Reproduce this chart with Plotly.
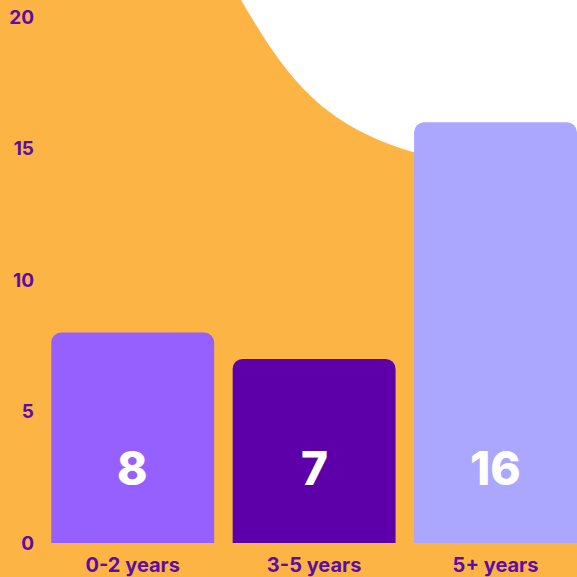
import plotly.graph_objects as go

categories = ["0-2 years", "3-5 years", "5+ years"]
values = [8, 7, 16]
bar_colors = ["#965FFF", "#5E00A9", "#ABA7FF"]
y_ticks = [0, 5, 10, 15, 20]

ORANGE = "#FCB445"
PURPLE = "#5C0DA6"

fig = go.Figure()
fig.add_trace(go.Bar(
    x=list(range(len(categories))),
    y=values,
    marker=dict(color=bar_colors, cornerradius=10, line=dict(width=0)),
    width=0.898,
    hoverinfo="skip",
))

for i, v in enumerate(values):
    fig.add_annotation(
        x=i, y=2.85, text=str(v), showarrow=False,
        font=dict(family="Inter", size=46, color="white", weight=800),
        xanchor="center", yanchor="middle",
    )

# decorative white curved area in the top-right background (pixel offsets from plot top-left)
fig.add_shape(
    type="path", layer="below",
    xref="paper", yref="paper", xsizemode="pixel", ysizemode="pixel",
    xanchor=0, yanchor=1,
    path="M 197,22 L 199,17 C 243,-58 278,-108 371,-135 L 545,-185 L 545,22 Z",
    fillcolor="white", line=dict(width=0),
)

fig.update_layout(
    width=577, height=577,
    margin=dict(l=42, r=0, t=17, b=34),
    paper_bgcolor=ORANGE,
    plot_bgcolor="rgba(0,0,0,0)",
    showlegend=False,
    xaxis=dict(
        range=[-0.5, 2.449],
        tickmode="array", tickvals=list(range(len(categories))), ticktext=categories,
        showgrid=False, zeroline=False, showline=False, ticks="",
        tickfont=dict(family="Inter", size=20, color=PURPLE, weight=700),
        ticklabelstandoff=8,
        fixedrange=True,
    ),
    yaxis=dict(
        range=[0, 20],
        tickmode="array", tickvals=y_ticks,
        showgrid=False, zeroline=False, showline=False, ticks="",
        tickfont=dict(family="Inter", size=19, color=PURPLE, weight=700),
        ticklabelstandoff=7,
        fixedrange=True,
    ),
)

fig.write_html(
    "out.html",
    config={"displayModeBar": False},
    post_script="document.body.style.margin='0';document.body.style.background='%s';" % ORANGE,
)
